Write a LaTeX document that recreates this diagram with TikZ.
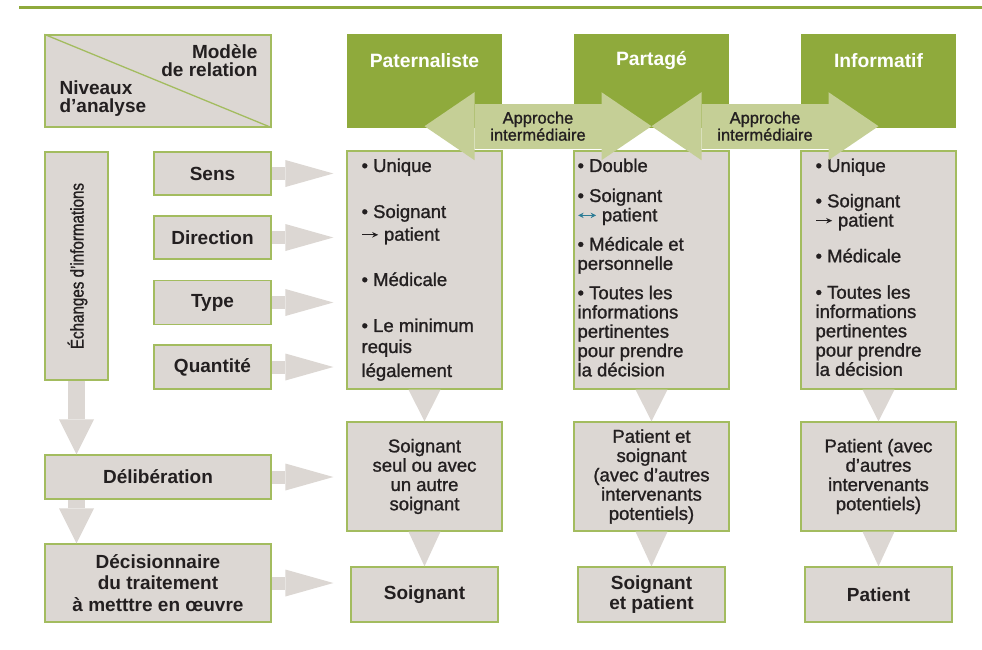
\documentclass[tikz,border=0pt]{standalone}
\usepackage{fontspec}
\setmainfont{Liberation Sans}
\newfontfamily\medfont[FakeBold=1.2]{Liberation Sans}
\newfontfamily\narrowfont[FakeStretch=0.82,FakeBold=1]{Liberation Sans}
\usetikzlibrary{arrows.meta,calc}

\definecolor{hdrgreen}{RGB}{143,170,60}
\definecolor{aprgreen}{RGB}{197,207,150}
\definecolor{cellgray}{RGB}{220,215,211}
\definecolor{cellline}{RGB}{163,188,95}
\definecolor{ink}{RGB}{35,31,32}
\definecolor{arrowteal}{RGB}{45,125,150}

\newcommand\sendarrow{\tikz[baseline=-.6ex]\draw[ink,line width=1.3pt,-{Stealth[length=6pt,width=5.5pt]}] (0pt,0pt) -- (16pt,0pt);}
\newcommand\swaparrow{\tikz[baseline=-.6ex]\draw[arrowteal,line width=1.2pt,{Stealth[length=5.5pt,width=5.5pt]}-{Stealth[length=5.5pt,width=5.5pt]}] (0pt,0pt) -- (18pt,0pt);}

\begin{document}
\begin{tikzpicture}[x=1pt,y=-1pt,font=\medfont\fontsize{18.5}{19.3}\selectfont,text=ink,
  cell/.style={draw=cellline,line width=1.3pt,fill=cellgray,inner sep=0pt,align=center},
  lvl/.style={cell,font=\normalfont\fontsize{19}{21}\selectfont\bfseries},
  hdr/.style={fill=hdrgreen,minimum width=155pt,minimum height=94pt,inner sep=0pt},
  hdrtext/.style={text=white,font=\normalfont\fontsize{19.3}{21}\selectfont\bfseries},
  bul/.style={anchor=north west,align=left,inner sep=0pt},
  flow/.style={draw=cellgray,line width=13pt,-{Triangle[length=48pt,width=27pt,line width=0pt]}},
  drop/.style={draw=cellgray,line width=17pt,-{Triangle[length=35pt,width=35pt,line width=0pt]}},
  apr/.style={draw=aprgreen,line width=45pt,{Triangle[length=50pt,width=68pt,line width=0pt]}-{Triangle[length=50pt,width=68pt,line width=0pt]}},
  aprtext/.style={align=center,font=\medfont\fontsize{16.5}{17}\selectfont}]
\useasboundingbox (0,0) rectangle (982,649);

\draw[hdrgreen,line width=3pt] (19,7.5) -- (982,7.5);

% corner box
\node[cell,minimum width=226pt,minimum height=92pt] (hd) at (158,81) {};
\draw[cellline,line width=1.3pt] (hd.north west) -- (hd.south east);
\node[anchor=north east,align=right,inner sep=0pt,font=\normalfont\fontsize{19}{18}\selectfont\bfseries] (mdl)
  at ([xshift=-14pt,yshift=-10pt]hd.north east) {Modèle\\de relation};
\node[anchor=south west,align=left,inner sep=0pt,font=\normalfont\fontsize{19}{18}\selectfont\bfseries] (niv)
  at ([xshift=15pt,yshift=11pt]hd.south west) {Niveaux\\d’analyse};

% relation models
\node[hdr] (pat) at (424.5,81) {};
\node[hdr] (par) at (651.5,81) {};
\node[hdr] (inf) at (878.5,81) {};
\node[hdrtext] (patt) at ([yshift=-27pt]pat.north) {Paternaliste};
\node[hdrtext] (part) at ([yshift=-27pt]par.north) {Partagé};
\node[hdrtext] (inft) at ([yshift=-27pt]inf.north) {Informatif};

% levels of analysis
\node[cell,minimum width=63pt,minimum height=228pt] (ech) at (76.5,266) {};
\node[rotate=90,font=\narrowfont\fontsize{18.5}{19}\selectfont] (echt) at ([xshift=1pt]ech) {Échanges d’informations};
\node[lvl,minimum width=117pt,minimum height=43pt] (sens) at (212.5,173.5) {Sens};
\node[lvl,minimum width=117pt,minimum height=43pt] (dir) at (212.5,237.5) {Direction};
\node[lvl,minimum width=117pt,minimum height=44pt] (typ) at (212.5,302.5) {Type};
\node[lvl,minimum width=117pt,minimum height=44pt] (qty) at (212.5,367) {Quantité};
\node[lvl,minimum width=226pt,minimum height=44pt] (del) at (158,477) {Délibération};
\node[lvl,minimum width=226pt,minimum height=78pt,font=\normalfont\fontsize{19}{19.3}\selectfont\bfseries] (dec) at (158,583)
  {Décisionnaire\\[2pt]du traitement\\[2pt]à metttre en œuvre};

% information exchange
\node[cell,minimum width=155pt,minimum height=238pt] (pat1) at (424.5,270) {};
\node[cell,minimum width=155pt,minimum height=238pt] (par1) at (651.5,270) {};
\node[cell,minimum width=155pt,minimum height=238pt] (inf1) at (878.5,270) {};
\node[bul] (pat1t) at ([xshift=15pt,yshift=-8pt]pat1.north west)
  {• Unique\\[26.7pt]• Soignant\\[3.4pt]\sendarrow{} patient\\[26pt]• Médicale\\[26.7pt]• Le minimum\\[1.7pt]requis\\[4.7pt]légalement};
\node[bul] (par1t) at ([xshift=4pt,yshift=-8pt]par1.north west)
  {• Double\\[10.7pt]• Soignant\\\swaparrow{} patient\\[10pt]• Médicale et\\personnelle\\[10pt]• Toutes les\\informations\\pertinentes\\pour prendre\\la décision};
\node[bul] (inf1t) at ([xshift=15pt,yshift=-8pt]inf1.north west)
  {• Unique\\[16pt]• Soignant\\\sendarrow{} patient\\[16.5pt]• Médicale\\[17pt]• Toutes les\\informations\\pertinentes\\pour prendre\\la décision};

% deliberation
\node[cell,minimum width=155pt,minimum height=109pt] (pat2) at (424.5,476.5) {Soignant\\seul ou avec\\un autre\\soignant};
\node[cell,minimum width=155pt,minimum height=109pt] (par2) at (651.5,476.5) {Patient et\\soignant\\(avec d’autres\\intervenants\\potentiels)};
\node[cell,minimum width=155pt,minimum height=109pt] (inf2) at (878.5,476.5) {Patient (avec\\d’autres\\intervenants\\potentiels)};

% decision maker
\node[lvl,minimum width=147pt,minimum height=55pt] (pat3) at (424.5,594.5) {Soignant};
\node[lvl,minimum width=147pt,minimum height=55pt,font=\normalfont\fontsize{19}{20}\selectfont\bfseries] (par3) at (651.5,594.5) {Soignant\\et patient};
\node[lvl,minimum width=147pt,minimum height=55pt] (inf3) at (878.5,594.5) {Patient};

% arrows
\foreach \n in {sens,dir,typ,qty,del,dec}
  \draw[flow] (\n.east) -- ([xshift=-13pt]pat1.west |- \n.east);
\draw[drop] (ech.south) -- (ech.south |- del.north);
\draw[drop] (ech.south |- del.south) -- (ech.south |- dec.north);
\foreach \c in {pat,par,inf} {
  \fill[cellgray] ([xshift=-16pt]\c1.south) -- ([xshift=16pt]\c1.south) -- (\c2.north) -- cycle;
  \fill[cellgray] ([xshift=-16pt]\c2.south) -- ([xshift=16pt]\c2.south) -- (\c3.north) -- cycle;
}
\draw[apr] ([yshift=2pt]pat.south) -- node[aprtext] (apr1) {Approche\\intermédiaire} ([yshift=2pt]par.south);
\draw[apr] ([yshift=2pt]par.south) -- node[aprtext] (apr2) {Approche\\intermédiaire} ([yshift=2pt]inf.south);
\end{tikzpicture}
\end{document}
